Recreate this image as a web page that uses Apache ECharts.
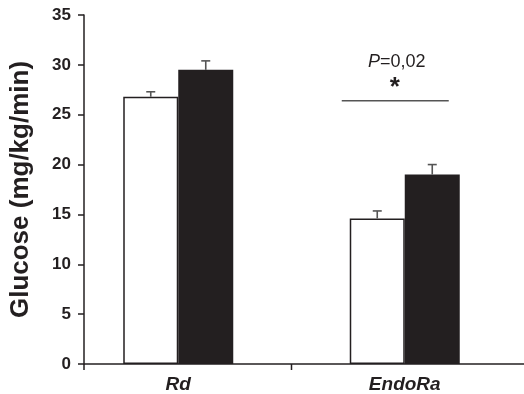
<!DOCTYPE html>
<html>
<head>
<meta charset="utf-8">
<script src="https://cdn.jsdelivr.net/npm/echarts@6/dist/echarts.min.js"></script>
<style>
html,body{margin:0;padding:0;background:#fff;}
#chart{width:524px;height:394px;}
</style>
</head>
<body>
<div id="chart"></div>
<script>
const categories = ['Rd', 'EndoRa'];
const whiteValues = [26.8, 14.6];
const whiteErrors = [0.5, 0.75];
const blackValues = [29.5, 19.0];
const blackErrors = [0.9, 1.0];
const yTicks = [0, 5, 10, 15, 20, 25, 30, 35];
const sigLevel = 26.4;
const sigText = 'P=0,02';

const FONT = '"Liberation Sans", Arial, Helvetica, sans-serif';
const BAR_W = 55;
const AXIS_X = 84;
const ink = '#231f20';

const chart = echarts.init(document.getElementById('chart'), null, {renderer: 'canvas'});

function errSeries(values, errors, dir) {
  return {
    type: 'custom',
    z: 5,
    data: values.map((v, i) => [i, v, errors[i]]),
    renderItem: function (params, api) {
      const p0 = api.coord([api.value(0), api.value(1)]);
      const p1 = api.coord([api.value(0), api.value(1) + api.value(2)]);
      const x = p0[0] + dir * BAR_W / 2;
      const st = {stroke: '#555', lineWidth: 1.6};
      return {
        type: 'group',
        children: [
          {type: 'line', shape: {x1: x, y1: p0[1], x2: x, y2: p1[1]}, style: st},
          {type: 'line', shape: {x1: x - 4.5, y1: p1[1], x2: x + 4.5, y2: p1[1]}, style: st}
        ]
      };
    }
  };
}

const option = {
  animation: false,
  backgroundColor: '#fff',
  grid: {left: 65, right: 6, top: 15, bottom: 29, containLabel: false},
  xAxis: {
    type: 'category',
    data: categories,
    axisLine: {show: false},
    axisTick: {show: false},
    axisLabel: {
      margin: 11,
      fontFamily: FONT, fontSize: 19, fontWeight: 'bold', fontStyle: 'italic', color: ink
    }
  },
  yAxis: {
    type: 'value',
    min: yTicks[0],
    max: yTicks[yTicks.length - 1],
    interval: 5,
    offset: -(AXIS_X - 65),
    splitLine: {show: false},
    axisLine: {show: true, lineStyle: {color: ink, width: 1.5}},
    axisTick: {show: true, length: 6, lineStyle: {color: ink, width: 1.5}},
    axisLabel: {margin: 13, fontFamily: FONT, fontSize: 17, fontWeight: 'bold', color: ink},
    name: 'Glucose (mg/kg/min)',
    nameLocation: 'middle',
    nameGap: 50,
    nameTextStyle: {fontFamily: FONT, fontSize: 26, fontWeight: 'bold', color: ink}
  },
  series: [
    {
      type: 'bar',
      data: whiteValues,
      barWidth: BAR_W,
      barGap: '0%',
      itemStyle: {color: '#fff', borderColor: ink, borderWidth: 1.5}
    },
    {
      type: 'bar',
      data: blackValues,
      barWidth: BAR_W,
      barGap: '0%',
      itemStyle: {color: ink}
    },
    errSeries(whiteValues, whiteErrors, -1),
    errSeries(blackValues, blackErrors, 1)
  ]
};
chart.setOption(option);

const y0 = chart.convertToPixel({yAxisIndex: 0}, 0);
const c0 = chart.convertToPixel({xAxisIndex: 0}, categories[0]);
const c1 = chart.convertToPixel({xAxisIndex: 0}, categories[1]);
const mid = (c0 + c1) / 2;
const ySig = chart.convertToPixel({yAxisIndex: 0}, sigLevel);
const lineSt = {stroke: ink, lineWidth: 1.5};
chart.setOption({
  graphic: [
    {type: 'line', shape: {x1: AXIS_X, y1: y0, x2: 524, y2: y0}, style: lineSt, z: 10},
    {type: 'line', shape: {x1: AXIS_X, y1: y0, x2: AXIS_X, y2: y0 + 6}, style: lineSt, z: 10},
    {type: 'line', shape: {x1: mid, y1: y0, x2: mid, y2: y0 + 6}, style: lineSt, z: 10},
    {type: 'line', shape: {x1: c1 - 63, y1: ySig, x2: c1 + 44, y2: ySig}, style: {stroke: '#555', lineWidth: 1.5}, z: 10},
    {type: 'text', x: c1 - 10, y: ySig - 13, style: {text: '*', font: 'bold 26px ' + FONT, fill: ink, textAlign: 'center', textVerticalAlign: 'middle'}, z: 10},
    {type: 'text', x: c1 - 8, y: ySig - 39, style: {
      rich: {i: {fontStyle: 'italic', fontFamily: FONT, fontSize: 18, fill: ink}, n: {fontFamily: FONT, fontSize: 18, fill: ink}},
      text: '{i|P}{n|=0,02}', textAlign: 'center', textVerticalAlign: 'middle'}, z: 10}
  ]
});
</script>
</body>
</html>
